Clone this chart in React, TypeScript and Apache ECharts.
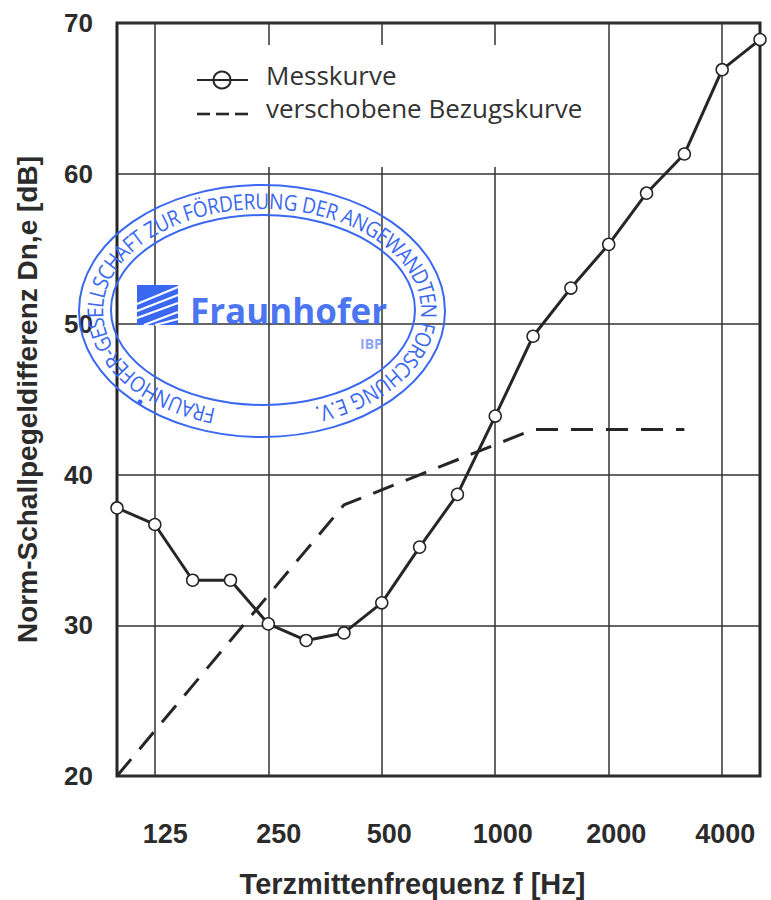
import React, { useEffect, useRef } from "react";
import * as echarts from "echarts";

const frequencies = ["100","125","160","200","250","315","400","500","630","800","1000","1250","1600","2000","2500","3150","4000","5000"];
const messkurve = [37.8,36.7,33,33,30.1,29,29.5,31.5,35.2,38.7,43.9,49.2,52.4,55.3,58.7,61.3,66.9,68.9];
const bezugskurve = [20,23,26,29,32,35,38,39,40,41,42,43,43,43,43,43,null,null];
const labelShift: Record<string, string> = { "125": "a", "250": "a", "500": "b", "1000": "b", "2000": "b", "4000": "c" };
const stampText = "FRAUNHOFER-GESELLSCHAFT ZUR FÖRDERUNG DER ANGEWANDTEN FORSCHUNG E.V.";

const INK = "#262626";
const BLUE = "#3a68f0";

function buildStamp(): any[] {
  const cx = 262, cy = 311, rx = 167.5, ry = 110.5;
  const out: any[] = [
    { type: "ellipse", z: 1, shape: { cx, cy, rx: 183, ry: 126 }, style: { fill: "none", stroke: BLUE, lineWidth: 2 } },
    { type: "ellipse", z: 1, shape: { cx: 263, cy: 310, rx: 152, ry: 95 }, style: { fill: "none", stroke: BLUE, lineWidth: 2 } },
    { type: "rect", z: 1, shape: { x: 137, y: 285, width: 41, height: 40 }, style: { fill: BLUE } },
    { type: "circle", z: 1, shape: { cx: 140, cy: 402, r: 2.5 }, style: { fill: BLUE } },
    { type: "text", z: 1, x: 190, y: 294, style: { text: "Fraunhofer", font: "bold 35px 'Open Sans'", lineHeight: 32, fill: BLUE, opacity: 0.92 } },
    { type: "text", z: 1, x: 360, y: 336, style: { text: "IBP", font: "bold 14px 'Open Sans'", fill: BLUE, opacity: 0.6 } },
  ];
  const streaks = [[137, 304, 178, 287], [137, 311, 178, 295], [137, 318, 178, 303], [144, 325, 178, 312], [155, 325, 178, 319]];
  streaks.forEach(([x1, y1, x2, y2]) =>
    out.push({ type: "line", z: 1, shape: { x1, y1, x2, y2 }, style: { stroke: "#ffffff", lineWidth: 2 } })
  );
  const start = (-163.5 * Math.PI) / 180;
  const end = (161 * Math.PI) / 180;
  const steps = 2000;
  const table: number[] = [0];
  const pt = (t: number) => [cx + rx * Math.sin(t), cy - ry * Math.cos(t)];
  for (let i = 1; i <= steps; i++) {
    const a = pt(start + ((end - start) * (i - 1)) / steps);
    const b = pt(start + ((end - start) * i) / steps);
    table.push(table[i - 1] + Math.hypot(b[0] - a[0], b[1] - a[1]));
  }
  const ctx = document.createElement("canvas").getContext("2d")!;
  const font = "500 19px 'Open Sans'";
  ctx.font = font;
  const widths = Array.from(stampText).map((c) => ctx.measureText(c).width);
  const total = widths.reduce((s, w) => s + w, 0);
  const k = table[steps] / total;
  let run = 0;
  Array.from(stampText).forEach((c, i) => {
    const mid = run + (widths[i] * k) / 2;
    run += widths[i] * k;
    if (c === " ") return;
    let j = 0;
    while (j < steps && table[j] < mid) j++;
    const t = start + ((end - start) * j) / steps;
    const [x, y] = pt(t);
    const angle = Math.atan2(ry * Math.sin(t), rx * Math.cos(t));
    out.push({
      type: "text", z: 1, x, y, rotation: -angle, scaleY: 1.15,
      style: { text: c, font, fill: BLUE, align: "center", verticalAlign: "middle" },
    });
  });
  return out;
}

// Legend samples sit a little below their texts in the reference, so they are drawn apart from the legend's texts.
const legendSamples: any[] = [
  { type: "line", z: 2, shape: { x1: 197, y1: 80, x2: 248, y2: 80 }, style: { stroke: INK, lineWidth: 2 } },
  { type: "circle", z: 2, shape: { cx: 222, cy: 80, r: 8.5 }, style: { fill: "none", stroke: INK, lineWidth: 2 } },
  { type: "line", z: 2, shape: { x1: 197, y1: 114, x2: 210, y2: 114 }, style: { stroke: INK, lineWidth: 2.6 } },
  { type: "line", z: 2, shape: { x1: 216, y1: 114, x2: 229, y2: 114 }, style: { stroke: INK, lineWidth: 2.6 } },
  { type: "line", z: 2, shape: { x1: 235, y1: 114, x2: 248, y2: 114 }, style: { stroke: INK, lineWidth: 2.6 } },
];

const labelFont = { fontFamily: "Liberation Sans", fontWeight: "bold", fontSize: 27, color: "#2b2b2b" };

export default function App() {
  const ref = useRef<HTMLDivElement>(null);
  useEffect(() => {
    const chart = echarts.init(ref.current!, undefined, { renderer: "svg" });
    chart.setOption({
      animation: false,
      backgroundColor: "#ffffff",
      grid: { show: true, left: 117, right: 11, top: 23, bottom: 124, borderColor: INK, borderWidth: 3, containLabel: false, outerBoundsMode: "none" },
      legend: {
        left: 191, top: 57, orient: "vertical", itemWidth: 50, itemHeight: 14, itemGap: 7,
        itemStyle: { opacity: 0 }, lineStyle: { opacity: 0 },
        textStyle: { fontFamily: "Open Sans", fontSize: 26, color: "#333", lineHeight: 10, padding: [0, 0, 0, 14] },
        data: [{ name: "Messkurve" }, { name: "verschobene Bezugskurve" }],
      },
      xAxis: {
        type: "category", boundaryGap: false, data: frequencies,
        name: "Terzmittenfrequenz f [Hz]", nameLocation: "middle", nameGap: 93,
        nameTextStyle: { fontFamily: "Liberation Sans", fontWeight: "bold", fontSize: 29, color: "#2b2b2b", padding: [0, 52, 0, 0] },
        axisLine: { show: false }, axisTick: { show: false },
        splitLine: { show: true, interval: (i: number) => i % 3 === 1, lineStyle: { color: "#333", width: 1.5 } },
        axisLabel: {
          interval: (i: number) => i % 3 === 1, margin: 44,
          ...labelFont,
          formatter: (v: string) => `{${labelShift[v] ?? "c"}|${v}}`,
          rich: {
            a: { padding: [0, 0, 0, 21], ...labelFont },
            b: { padding: [0, 0, 0, 15], ...labelFont },
            c: { padding: [0, 0, 0, 6], ...labelFont },
          },
        },
      },
      yAxis: {
        type: "value", min: 20, max: 70, interval: 10,
        name: "Norm-Schallpegeldifferenz Dn,e [dB]", nameLocation: "middle", nameGap: 76,
        nameTextStyle: { fontFamily: "Liberation Sans", fontWeight: "bold", fontSize: 28, color: "#2b2b2b" },
        axisLine: { show: false }, axisTick: { show: false },
        splitLine: { show: true, lineStyle: { color: "#333", width: 1.5 } },
        axisLabel: { margin: 24, fontFamily: "Liberation Sans", fontWeight: "bold", fontSize: 26, color: "#2b2b2b" },
      },
      series: [
        {
          name: "Messkurve", type: "line", data: messkurve, clip: false, z: 5,
          symbol: "circle", symbolSize: 12, showAllSymbol: true,
          lineStyle: { color: INK, width: 3 },
          itemStyle: { color: "#ffffff", borderColor: INK, borderWidth: 1.5 },
        },
        {
          name: "verschobene Bezugskurve", type: "line", data: bezugskurve, clip: false, z: 4,
          symbol: "none", itemStyle: { color: INK },
          lineStyle: { color: INK, width: 3, type: [22, 13] },
        },
      ],
      graphic: [
        { type: "rect", z: 1, shape: { x: 160, y: 45, width: 445, height: 122 }, style: { fill: "#ffffff" } },
        ...legendSamples,
        ...buildStamp(),
      ],
    });
    return () => chart.dispose();
  }, []);
  return <div ref={ref} style={{ position: "absolute", left: 0, top: 0, width: 771, height: 900 }} />;
}
